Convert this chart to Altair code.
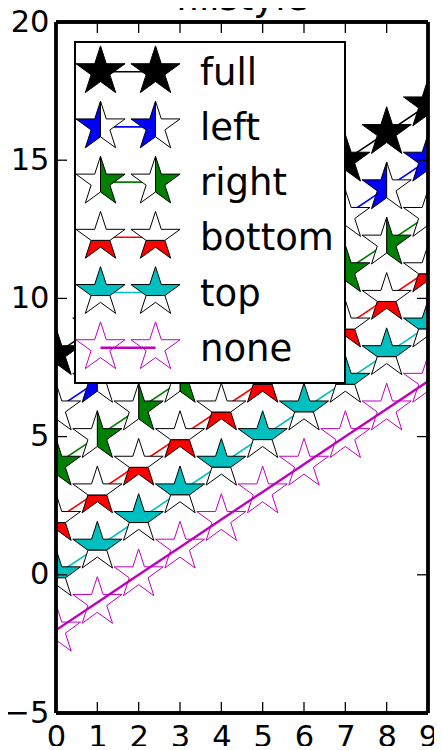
import math
import altair as alt
import pandas as pd

# ---------------- data ----------------
x_values = [0, 1, 2, 3, 4, 5, 6, 7, 8, 9]
y_full = [8, 9, 10, 11, 12, 13, 14, 15, 16, 17]
y_left = [6, 7, 8, 9, 10, 11, 12, 13, 14, 15]
y_right = [4, 5, 6, 7, 8, 9, 10, 11, 12, 13]
y_bottom = [2, 3, 4, 5, 6, 7, 8, 9, 10, 11]
y_top = [0, 1, 2, 3, 4, 5, 6, 7, 8, 9]
y_none = [-2, -1, 0, 1, 2, 3, 4, 5, 6, 7]

series_names = ["full", "left", "right", "bottom", "top", "none"]
series_values = [y_full, y_left, y_right, y_bottom, y_top, y_none]
series_colors = ["#000000", "#0000ff", "#008000", "#ff0000", "#00bfbf", "#bf00bf"]

x_ticks = [0, 1, 2, 3, 4, 5, 6, 7, 8, 9]
y_ticks = [-5, 0, 5, 10, 15, 20]
title_text = "fillstyle"

# ---------------- layout ----------------
W, H = 372, 691
X_DOM = [0, 9]
Y_DOM = [-5, 20]
FONT = "DejaVu Sans"
SIZE = 2670
LINE_W = 1.6


def px_x(px):
    return (px - 56) / W * (X_DOM[1] - X_DOM[0]) + X_DOM[0]


def px_y(py):
    return Y_DOM[1] - (py - 22) / H * (Y_DOM[1] - Y_DOM[0])


# star marker paths (matplotlib unit_regular_star, inner 0.381966)
R_IN = 0.381966


def vert(i):
    ang = math.radians(90 + 36 * i)
    r = 1.0 if i % 2 == 0 else R_IN
    return (r * math.cos(ang), -r * math.sin(ang))


V = [vert(i) for i in range(10)]


def spath(idx):
    pts = [V[i] for i in idx]
    return "M" + " L".join(f"{a:.4f},{b:.4f}" for a, b in pts) + " Z"


FULL = spath(range(10))
LEFT = spath([0, 1, 2, 3, 4, 5])
RIGHT = spath([0, 5, 6, 7, 8, 9])
TOP = spath([0, 1, 2, 3, 7, 8, 9])
BOTTOM = spath([3, 4, 5, 6, 7])
HALVES = {"left": (LEFT, RIGHT), "right": (RIGHT, LEFT),
          "top": (TOP, BOTTOM), "bottom": (BOTTOM, TOP)}

xs = alt.Scale(domain=X_DOM, nice=False, zero=False)
ys = alt.Scale(domain=Y_DOM, nice=False, zero=False)
xaxis = alt.Axis(values=x_ticks, ticks=False, domain=False, grid=False, title=None,
                 labelFontSize=30.5, labelFont=FONT, labelColor="black", labelPadding=9,
                 labelFlush=False, labelOverlap=False, labelBound=False, format="d")
yaxis = alt.Axis(values=y_ticks, ticks=False, domain=False, grid=False, title=None,
                 labelFontSize=30.5, labelFont=FONT, labelColor="black", labelPadding=7,
                 labelFlush=False, labelOverlap=False, labelBound=False, format="d")


def X(f):
    return alt.X(f, type="quantitative", scale=xs, axis=xaxis)


def Y(f):
    return alt.Y(f, type="quantitative", scale=ys, axis=yaxis)


def marker_layers(df, name, color):
    out = []
    if name == "full":
        out.append(alt.Chart(df).mark_point(shape=FULL, size=SIZE, filled=True, fill=color,
                                            stroke="black", strokeWidth=1, opacity=1,
                                            strokeJoin="bevel", clip=True)
                   .encode(x=X("x"), y=Y("y")))
    elif name == "none":
        out.append(alt.Chart(df).mark_point(shape=FULL, size=SIZE, filled=False,
                                            stroke=color, strokeWidth=1, opacity=1,
                                            strokeJoin="bevel", clip=True)
                   .encode(x=X("x"), y=Y("y")))
    else:
        main, alt_p = HALVES[name]
        out.append(alt.Chart(df).mark_point(shape=main, size=SIZE, filled=True, fill=color,
                                            stroke="black", strokeWidth=1, opacity=1,
                                            strokeJoin="bevel", clip=True)
                   .encode(x=X("x"), y=Y("y")))
        out.append(alt.Chart(df).mark_point(shape=alt_p, size=SIZE, filled=True, fill="white",
                                            stroke="black", strokeWidth=1, opacity=1,
                                            strokeJoin="bevel", clip=True)
                   .encode(x=X("x"), y=Y("y")))
    return out


layers = []
# data series
for name, vals, color in zip(series_names, series_values, series_colors):
    df = pd.DataFrame({"x": x_values, "y": vals})
    lw = 2.4 if name == "none" else LINE_W
    layers.append(alt.Chart(df).mark_line(color=color, strokeWidth=lw, clip=True)
                  .encode(x=X("x"), y=Y("y")))
    layers += marker_layers(df, name, color)

# legend box
box = pd.DataFrame({"x": [px_x(75)], "x2": [px_x(345)], "y": [px_y(42)], "y2": [px_y(383)]})
layers.append(alt.Chart(box).mark_rect(fill="white", stroke="black", strokeWidth=2)
              .encode(x=X("x"), x2="x2", y=Y("y"), y2="y2"))

# legend entries
row0, row_step = 71.7, 55.2
for i, (name, color) in enumerate(zip(series_names, series_colors)):
    cy = px_y(row0 + i * row_step)
    ldf = pd.DataFrame({"x": [px_x(100.5), px_x(155.5)], "y": [cy, cy]})
    lw = 2.4 if name == "none" else LINE_W
    layers.append(alt.Chart(ldf).mark_line(color=color, strokeWidth=lw)
                  .encode(x=X("x"), y=Y("y")))
    layers += marker_layers(ldf, name, color)
    tdf = pd.DataFrame({"x": [px_x(200)], "y": [cy], "label": [name]})
    layers.append(alt.Chart(tdf).mark_text(align="left", baseline="alphabetic", dy=13,
                                           fontSize=37, font=FONT, color="black")
                  .encode(x=X("x"), y=Y("y"), text="label:N"))

# inward ticks
xt = pd.DataFrame({"x": x_ticks})
yt = pd.DataFrame({"y": y_ticks})
TK = 11
layers.append(alt.Chart(xt).mark_rule(color="black", strokeWidth=1.3)
              .encode(x=X("x"), y=alt.value(H), y2=alt.value(H - TK)))
layers.append(alt.Chart(xt).mark_rule(color="black", strokeWidth=1.3)
              .encode(x=X("x"), y=alt.value(0), y2=alt.value(TK)))
layers.append(alt.Chart(yt).mark_rule(color="black", strokeWidth=1.3)
              .encode(y=Y("y"), x=alt.value(0), x2=alt.value(TK)))
layers.append(alt.Chart(yt).mark_rule(color="black", strokeWidth=1.3)
              .encode(y=Y("y"), x=alt.value(W), x2=alt.value(W - TK)))

# spines
SP = 2.4
layers.append(alt.Chart(xt).mark_rule(color="black", strokeWidth=SP)
              .encode(x=alt.value(0), x2=alt.value(W), y=alt.value(0)))
layers.append(alt.Chart(xt).mark_rule(color="black", strokeWidth=SP)
              .encode(x=alt.value(0), x2=alt.value(W), y=alt.value(H)))
layers.append(alt.Chart(xt).mark_rule(color="black", strokeWidth=SP)
              .encode(y=alt.value(0), y2=alt.value(H), x=alt.value(0)))
layers.append(alt.Chart(xt).mark_rule(color="black", strokeWidth=SP)
              .encode(y=alt.value(0), y2=alt.value(H), x=alt.value(W)))

# title
tt = pd.DataFrame({"t": [title_text]})
layers.append(alt.Chart(tt).mark_text(align="center", baseline="alphabetic", fontSize=37,
                                      font=FONT, color="black")
              .encode(x=alt.value(W / 2), y=alt.value(-12), text="t:N"))

chart = (alt.layer(*layers)
         .properties(width=W, height=H,
                     autosize=alt.AutoSizeParams(type="none"),
                     padding={"left": 48, "top": 14, "right": 6, "bottom": 33})
         .configure_view(stroke=None)
         .configure(background="white"))

chart.save("out.html", embed_options={"renderer": "svg", "actions": False})
